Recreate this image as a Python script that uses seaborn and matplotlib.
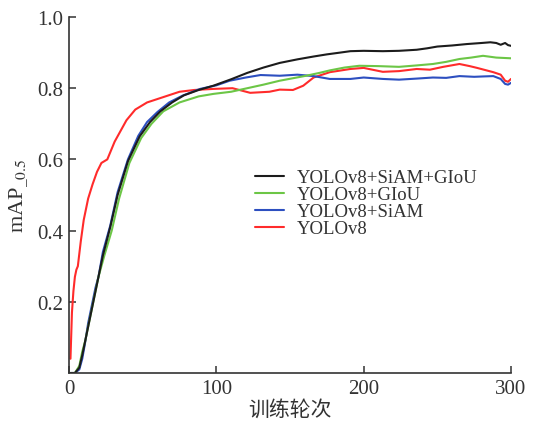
import pandas as pd
import seaborn as sns
import matplotlib
matplotlib.use("Agg")
import matplotlib.pyplot as plt

# curves (epoch, mAP_0.5)
labels = ["YOLOv8+SiAM+GIoU", "YOLOv8+GIoU", "YOLOv8+SiAM", "YOLOv8"]

ep_siam_giou = [1, 4, 7, 9, 11, 14, 16, 19, 23, 28, 33, 40, 48, 55, 62, 70, 78, 88, 98, 110,
                121, 132, 143, 155, 166, 175, 184, 191, 200, 213, 224, 236, 243, 250, 260, 270,
                280, 286, 290, 293, 296, 298, 300]
map_siam_giou = [0.0, 0.0, 0.015, 0.05, 0.09, 0.15, 0.19, 0.25, 0.33, 0.41, 0.50, 0.595, 0.665,
                 0.705, 0.735, 0.76, 0.78, 0.795, 0.807, 0.825, 0.843, 0.858, 0.871, 0.881, 0.889,
                 0.895, 0.90, 0.904, 0.905, 0.904, 0.905, 0.908, 0.912, 0.917, 0.92, 0.924, 0.927,
                 0.929, 0.927, 0.922, 0.927, 0.921, 0.919]

ep_giou = [1, 4, 7, 9, 11, 14, 17, 20, 24, 29, 34, 41, 49, 56, 64, 75, 88, 98, 110, 121, 132,
           143, 152, 161, 170, 177, 187, 197, 210, 224, 236, 247, 256, 265, 273, 281, 290, 300]
map_giou = [0.0, 0.0, 0.02, 0.06, 0.09, 0.15, 0.21, 0.27, 0.33, 0.40, 0.49, 0.59, 0.66, 0.70,
            0.735, 0.76, 0.777, 0.784, 0.79, 0.80, 0.81, 0.821, 0.828, 0.835, 0.843, 0.85, 0.858,
            0.863, 0.862, 0.86, 0.864, 0.868, 0.874, 0.882, 0.886, 0.891, 0.886, 0.884]

ep_siam = [1, 4, 7, 9, 11, 13, 15, 18, 20, 23, 28, 33, 40, 47, 53, 60, 68, 77, 89, 100, 109,
           120, 130, 143, 155, 166, 177, 191, 200, 213, 224, 236, 247, 256, 265, 275, 281, 288,
           293, 296, 298, 300]
map_siam = [0.0, 0.0, 0.01, 0.04, 0.087, 0.14, 0.18, 0.24, 0.27, 0.34, 0.414, 0.508, 0.60,
            0.666, 0.705, 0.733, 0.76, 0.779, 0.798, 0.808, 0.821, 0.83, 0.837, 0.835, 0.838,
            0.834, 0.826, 0.826, 0.83, 0.826, 0.824, 0.827, 0.83, 0.829, 0.834, 0.832, 0.833,
            0.834, 0.826, 0.812, 0.81, 0.815]

ep_base = [1, 2, 3, 4, 5, 6, 8, 10, 13, 16, 19, 22, 26, 31, 35, 39, 45, 53, 64, 75, 85, 98,
           111, 123, 136, 143, 152, 159, 166, 177, 191, 200, 213, 224, 236, 245, 254, 265, 272,
           277, 288, 293, 296, 298, 300]
map_base = [0.04, 0.17, 0.23, 0.27, 0.29, 0.30, 0.37, 0.43, 0.49, 0.53, 0.565, 0.59, 0.60,
            0.65, 0.68, 0.71, 0.74, 0.76, 0.775, 0.79, 0.795, 0.798, 0.80, 0.787, 0.79, 0.796,
            0.795, 0.807, 0.83, 0.845, 0.854, 0.857, 0.846, 0.848, 0.854, 0.852, 0.86, 0.868,
            0.862, 0.857, 0.845, 0.838, 0.821, 0.818, 0.826]

colors = ["#1c1c1c", "#6cc646", "#2d4fc0", "#ff2b2b"]

frames = []
for lab, ep, vals in zip(labels,
                         [ep_siam_giou, ep_giou, ep_siam, ep_base],
                         [map_siam_giou, map_giou, map_siam, map_base]):
    frames.append(pd.DataFrame({"epoch": ep, "map": vals, "model": lab}))
df = pd.concat(frames, ignore_index=True)

sns.set_theme(style="ticks")
plt.rcParams["font.family"] = ["Liberation Serif", "Noto Sans CJK SC"]
plt.rcParams["mathtext.fontset"] = "stix"

fig = plt.figure(figsize=(5.37, 4.27), dpi=100)
ax = fig.add_axes([69 / 537, 1 - 374 / 427, 442 / 537, 356 / 427])

# draw red/blue/green first, black on top
order = ["YOLOv8", "YOLOv8+SiAM", "YOLOv8+GIoU", "YOLOv8+SiAM+GIoU"]
pal = dict(zip(labels, colors))
for lab in order:
    sub = df[df["model"] == lab]
    sns.lineplot(data=sub, x="epoch", y="map", color=pal[lab], label=lab,
                 estimator=None, sort=False, linewidth=1.5, ax=ax)

ax.set_xlim(0, 300)
ax.set_ylim(0, 1.0)
ax.set_xticks([0, 100, 200, 300])
ax.set_yticks([0.2, 0.4, 0.6, 0.8, 1.0])
ax.set_yticklabels(["0.2", "0.4", "0.6", "0.8", "1.0"])
ax.tick_params(direction="in", length=5, width=1.1, labelsize=15, colors="#333333", pad=4)
for s in ["top", "right"]:
    ax.spines[s].set_visible(False)
for s in ["left", "bottom"]:
    ax.spines[s].set_color("#333333")
    ax.spines[s].set_linewidth(1.2)

ax.set_xlabel("训练轮次", fontsize=15, color="#333333", labelpad=2)
ax.set_ylabel(r"mAP$_{\_0.5}$", fontsize=16, color="#333333", labelpad=6)

handles, labs = ax.get_legend_handles_labels()
hmap = dict(zip(labs, handles))
ax.legend([hmap[l] for l in labels], labels, loc="upper left",
          bbox_to_anchor=(255 / 537, 1 - 170 / 427), bbox_transform=fig.transFigure,
          frameon=False, fontsize=13.5, handlelength=1.55, handletextpad=0.7,
          labelspacing=0.0, borderpad=0, borderaxespad=0, labelcolor="#333333")

fig.savefig("out.png", dpi=100)
